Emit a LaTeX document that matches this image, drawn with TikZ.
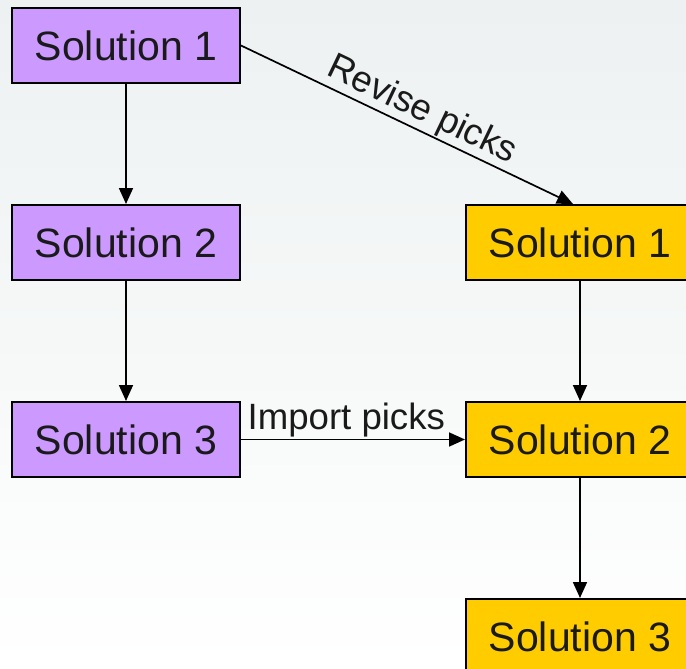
\documentclass[tikz,border=0pt]{standalone}
\usepackage{fontspec}
\setmainfont{Liberation Sans}
\usetikzlibrary{arrows.meta}
\definecolor{purp}{RGB}{204,153,255}
\definecolor{gold}{RGB}{255,204,0}
\definecolor{bgtop}{RGB}{237,241,241}
\definecolor{ink}{RGB}{26,26,26}
\tikzset{
  box/.style={draw=black, line width=1pt, minimum width=114pt, minimum height=37.5pt,
    inner sep=0pt, font=\fontsize{20.5}{24}\selectfont, text=ink},
  lbox/.style={box, fill=purp},
  rbox/.style={box, fill=gold},
  conn/.style={draw=black, line width=0.85pt, -{Triangle[length=8pt,width=7pt]}},
  lbl/.style={font=\fontsize{18.3}{22}\selectfont, text=ink, inner sep=0.6pt}
}
\begin{document}
\begin{tikzpicture}[x=0.5pt,y=-0.5pt]
\useasboundingbox (0,0) rectangle (686,669);
\clip (0,0) rectangle (686,669);
\shade[top color=bgtop, bottom color=white] (0,0) rectangle (686,669);
\node[lbox] (ls1) at (126,45.5) {Solution 1};
\node[lbox] (ls2) at (126,242.5) {Solution 2};
\node[lbox] (ls3) at (126,439.5) {Solution 3};
\node[rbox] (rs1) at (580,242.5) {Solution 1};
\node[rbox] (rs2) at (580,439.5) {Solution 2};
\node[rbox] (rs3) at (580,636.5) {Solution 3};
\draw[conn] (ls1) -- (ls2);
\draw[conn] (ls2) -- (ls3);
\draw[conn] (rs1) -- (rs2);
\draw[conn] (rs2) -- (rs3);
\draw[conn] (ls1.east) -- ([xshift=-3.5pt]rs1.north) node[lbl, pos=0.52, sloped, above] {Revise picks};
\draw[conn] (ls3.east) -- (rs2.west) node[lbl, pos=0.47, above] {Import picks};
\end{tikzpicture}
\end{document}
